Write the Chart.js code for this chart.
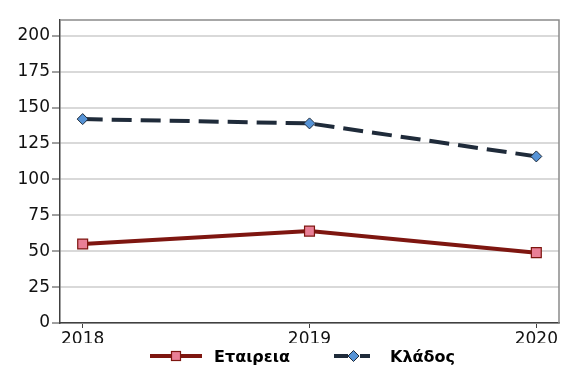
<!DOCTYPE html>
<html>
<head>
<meta charset="utf-8">
<script src="https://cdn.jsdelivr.net/npm/chart.js@4"></script>
<style>
html,body{margin:0;padding:0;background:#fff;}
#wrap{width:562px;height:365px;position:relative;}
</style>
</head>
<body>
<div id="wrap"><canvas id="c" width="562" height="365"></canvas></div>
<script>
const categories = ['2018', '2019', '2020'];
const companyValues = [55, 64, 49];
const sectorValues = [142, 139, 116];
const seriesNames = ['Εταιρεια', 'Κλάδος'];
const yTicks = [0, 25, 50, 75, 100, 125, 150, 175, 200];

const RED = '#7e1610';
const PINK = '#e97f96';
const NAVY = '#1f2b3a';
const BLUE = '#5693d6';

// custom legend: line sample with marker, then bold text
const legendPlugin = {
  id: 'lineLegend',
  afterDraw(chart) {
    const ctx = chart.ctx;
    const y = 356;
    ctx.save();
    ctx.lineWidth = 4;
    ctx.strokeStyle = RED;
    ctx.beginPath(); ctx.moveTo(150, y); ctx.lineTo(202, y); ctx.stroke();
    ctx.fillStyle = PINK; ctx.lineWidth = 1.2; ctx.strokeStyle = RED;
    ctx.fillRect(171, y - 5, 10, 10); ctx.strokeRect(171.5, y - 4.5, 9, 9);
    ctx.lineWidth = 4; ctx.strokeStyle = NAVY;
    ctx.beginPath(); ctx.moveTo(334, y); ctx.lineTo(348, y); ctx.stroke();
    ctx.beginPath(); ctx.moveTo(360, y); ctx.lineTo(370, y); ctx.stroke();
    ctx.fillStyle = BLUE; ctx.lineWidth = 1; ctx.strokeStyle = NAVY;
    ctx.beginPath(); ctx.moveTo(348, y); ctx.lineTo(353.5, y - 5.5); ctx.lineTo(359, y); ctx.lineTo(353.5, y + 5.5); ctx.closePath();
    ctx.fill(); ctx.stroke();
    ctx.fillStyle = '#000';
    ctx.font = 'bold 16px "DejaVu Sans"';
    ctx.textBaseline = 'alphabetic';
    ctx.textAlign = 'left';
    ctx.fillText(chart.data.datasets[0].label, 214, 362);
    ctx.fillText(chart.data.datasets[1].label, 390, 362);
    ctx.restore();
  }
};

const frame = {
  id: 'frame',
  afterDatasetsDraw(chart) {
    const a = chart.chartArea, ctx = chart.ctx;
    ctx.save();
    ctx.strokeStyle = '#8a8a8a';
    ctx.lineWidth = 1.5;
    ctx.beginPath();
    ctx.moveTo(a.left, a.top); ctx.lineTo(a.right, a.top); ctx.lineTo(a.right, a.bottom);
    ctx.stroke();
    ctx.restore();
  }
};

new Chart(document.getElementById('c'), {
  type: 'line',
  data: {
    datasets: [
      {
        label: seriesNames[0],
        data: categories.map((c, i) => ({x: Number(c), y: companyValues[i]})),
        borderColor: RED, borderWidth: 4,
        pointStyle: 'rect', pointRadius: 7, pointBackgroundColor: PINK,
        pointBorderColor: RED, pointBorderWidth: 1.2, tension: 0
      },
      {
        label: seriesNames[1],
        data: categories.map((c, i) => ({x: Number(c), y: sectorValues[i]})),
        borderColor: NAVY, borderWidth: 4, borderDash: [20, 9],
        pointStyle: 'rectRot', pointRadius: 5.5, pointBackgroundColor: BLUE,
        pointBorderColor: NAVY, pointBorderWidth: 1, tension: 0
      }
    ]
  },
  options: {
    responsive: false,
    animation: false,
    layout: {autoPadding: false, padding: {top: 20, right: 3, left: 0, bottom: 22}},
    scales: {
      x: {
        type: 'linear',
        min: 2017.9, max: 2020.1,
        afterFit(s) { s.height = 20; s.paddingLeft = 0; s.paddingRight = 0; },
        afterBuildTicks(s) { s.ticks = categories.map(c => ({value: Number(c)})); },
        ticks: {
          callback: v => String(v),
          font: {family: 'DejaVu Sans', size: 17},
          color: '#111', padding: 1, maxRotation: 0, autoSkip: false
        },
        grid: {drawOnChartArea: false, drawTicks: true, tickLength: 5, tickColor: '#404040', tickWidth: 1},
        border: {color: '#404040', width: 1.5}
      },
      y: {
        min: 0, max: 211,
        afterFit(s) { s.width = 60; s.paddingTop = 0; s.paddingBottom = 0; },
        afterBuildTicks(s) { s.ticks = yTicks.map(v => ({value: v})); },
        ticks: {
          font: {family: 'DejaVu Sans', size: 17},
          color: '#111', padding: 2
        },
        grid: {color: '#d9d9d9', lineWidth: 2, tickLength: 8, tickColor: '#404040', tickWidth: 1},
        border: {color: '#404040', width: 1.5}
      }
    },
    plugins: {
      legend: {display: false},
      tooltip: {enabled: false}
    }
  },
  plugins: [frame, legendPlugin]
});
</script>
</body>
</html>
